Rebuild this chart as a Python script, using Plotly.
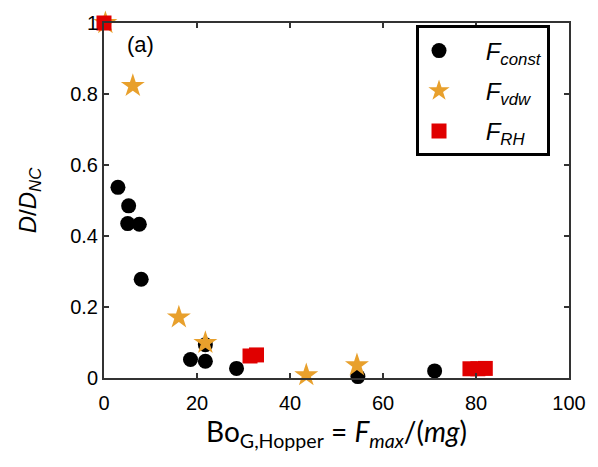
import plotly.graph_objects as go

const_x = [3.0, 5.3, 5.1, 7.6, 8.0, 18.6, 21.8, 21.8, 28.5, 54.6, 71.1]
const_y = [0.537, 0.485, 0.435, 0.433, 0.278, 0.052, 0.047, 0.094, 0.027, 0.004, 0.02]

vdw_x = [0.3, 6.2, 16.1, 21.8, 43.5, 54.4]
vdw_y = [1.0, 0.823, 0.171, 0.099, 0.008, 0.036]

rh_x = [0.0, 31.4, 32.8, 78.7, 80.4, 82.0]
rh_y = [1.0, 0.062, 0.065, 0.026, 0.026, 0.027]

x_ticks = [0, 20, 40, 60, 80, 100]
y_ticks = [0, 0.2, 0.4, 0.6, 0.8, 1]
y_tick_text = ["0", "0.2", "0.4", "0.6", "0.8", "1"]

FONT = "Liberation Sans, Arial, sans-serif"
TITLE_FONT = "Lato, Open Sans, sans-serif"
PAD = "&nbsp;&nbsp;&nbsp;&nbsp;"

fig = go.Figure()
fig.add_trace(go.Scatter(x=const_x, y=const_y, mode="markers", name=PAD + "<i>F</i><sub><i>const</i></sub>",
                         legendgroup="a",
                         marker=dict(symbol="circle", size=15, color="black"), cliponaxis=False))
fig.add_trace(go.Scatter(x=vdw_x, y=vdw_y, mode="markers", name=PAD + "<i>F</i><sub><i>vdw</i></sub>",
                         legendgroup="b",
                         marker=dict(symbol="star", size=18, color="#E8A02C"), cliponaxis=False))
fig.add_trace(go.Scatter(x=rh_x, y=rh_y, mode="markers", name=PAD + "<i>F</i><sub><i>RH</i></sub>",
                         legendgroup="c",
                         marker=dict(symbol="square", size=15, color="#E00000"), cliponaxis=False))

axis_common = dict(showline=True, linecolor="#333", linewidth=2, mirror="ticks", ticks="inside",
                   ticklen=5, tickwidth=1.5, tickcolor="#333", showgrid=False, zeroline=False,
                   tickfont=dict(family=FONT, size=20, color="black"))

fig.update_xaxes(range=[0, 100], tickvals=x_ticks, ticklabelstandoff=6, **axis_common,
                 title=dict(text="Bo<sub>G,Hopper</sub> = <i>F</i><sub><i>max</i></sub>/(<i>mg</i>)",
                            font=dict(family=TITLE_FONT, size=28, color="black"), standoff=8))
fig.update_yaxes(range=[0, 1], tickvals=y_ticks, ticktext=y_tick_text, **axis_common,
                 title=dict(text="<i>D</i>/<i>D</i><sub><i>NC</i></sub>",
                            font=dict(family=FONT, size=24, color="black"), standoff=27))

fig.add_annotation(x=0.045, y=0.94, xref="paper", yref="paper", text="(a)", showarrow=False,
                   xanchor="left", yanchor="middle", font=dict(family=FONT, size=22, color="black"))

fig.update_layout(
    width=598, height=467,
    margin=dict(l=104, r=23, t=15, b=89),
    plot_bgcolor="white", paper_bgcolor="white",
    showlegend=True,
    legend=dict(x=0.671, y=0.993, xanchor="left", yanchor="top", bgcolor="white",
                bordercolor="black", borderwidth=3, tracegroupgap=6,
                font=dict(family=FONT, size=24, color="black"), itemwidth=30),
)

fig.write_html("out.html")
